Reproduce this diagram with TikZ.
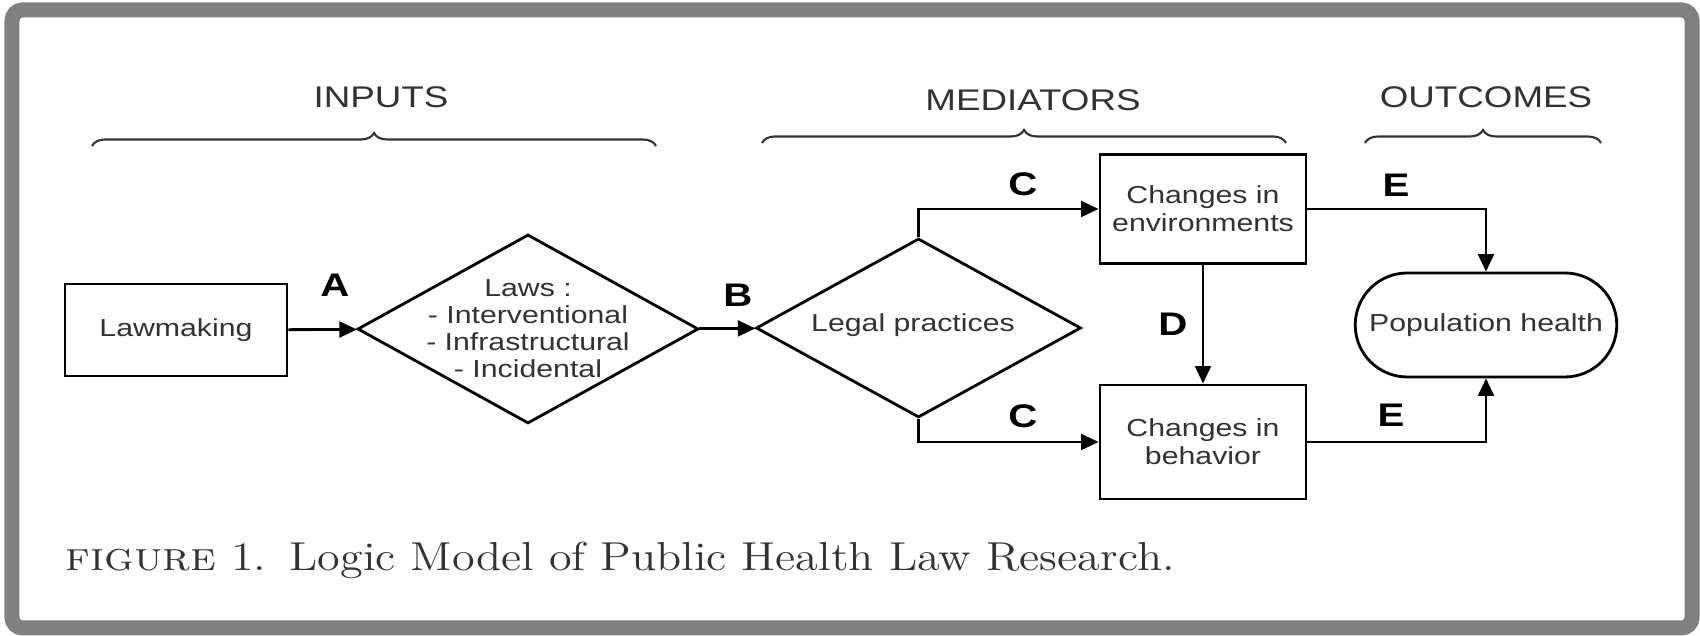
\documentclass[tikz,border=0pt]{standalone}
\usepackage{fontspec}
\usepackage{graphicx}
\usetikzlibrary{arrows.meta, positioning, shapes.geometric, shapes.misc, decorations.pathreplacing}
\newfontfamily\diagfont{Liberation Sans}[FakeStretch=1.23]
\definecolor{framegray}{RGB}{128, 128, 128}
\definecolor{inkgray}{RGB}{50, 50, 50}

\begin{document}
\begin{tikzpicture}[
    box/.style={draw, line width=0.8pt, minimum width=2.06cm, minimum height=1.09cm,
                align=center, text=inkgray, font=\diagfont\fontsize{7}{8}\selectfont},
    lawdiamond/.style={diamond, draw, line width=0.8pt, inner sep=0pt},
    txt/.style={align=center, text=inkgray, font=\diagfont\fontsize{7}{7.7}\selectfont},
    hdr/.style={text=inkgray, font=\diagfont\fontsize{8.5}{10}\selectfont},
    lbl/.style={text=black, font=\diagfont\bfseries\fontsize{9.3}{10}\selectfont},
    arrow/.style={-{Triangle[length=5pt, width=4.5pt]}, line width=0.8pt},
    grp/.style={decorate, decoration={brace, amplitude=3.7pt}, line width=0.6pt, inkgray},
  ]
    \useasboundingbox (0,0) rectangle (17,6.36);
    \draw[framegray, line width=0.15cm, rounded corners=3pt] (0.12,0.08) rectangle (16.92,6.26);

    % Headers and braces
    \node[hdr] (hdinputs) at (3.81,5.39) {INPUTS};
    \node[hdr] (hdmediators) at (10.33,5.36) {MEDIATORS};
    \node[hdr] (hdoutcomes) at (14.86,5.39) {OUTCOMES};
    \draw[grp] (0.92,4.90) -- (6.56,4.90);
    \draw[grp] (7.62,4.93) -- (12.86,4.93);
    \draw[grp] (13.65,4.93) -- (16.01,4.93);

    % Inputs
    \node[box, minimum width=2.22cm, minimum height=0.92cm] (lawmaking) at (1.76,3.06) {Lawmaking};
    \node[lawdiamond, minimum width=3.41cm, minimum height=1.89cm] (laws) at (5.28,3.07) {};
    \node[txt] (lawstext) at (laws) {Laws :\\- Interventional\\- Infrastructural\\- Incidental};

    % Mediators
    \node[lawdiamond, minimum width=3.25cm, minimum height=1.79cm] (legal) at (9.185,3.08) {};
    \node[txt] (legaltext) at (9.13,3.11) {Legal practices};
    \node[box] (env) at (12.03,4.27) {Changes in\\environments};
    \node[box, minimum height=1.14cm] (beh) at (12.03,1.94) {Changes in\\behavior};

    % Outcomes
    \node[box, rounded rectangle, minimum width=2.85cm, minimum height=1.04cm] (pop) at (14.86,3.11) {Population health};

    % Connectors
    \draw[arrow] (lawmaking) -- (laws);
    \draw[arrow] (laws) -- (legal);
    \draw[arrow] (legal.north) |- (env.west);
    \draw[arrow] (legal.south) |- (beh.west);
    \draw[arrow] (env) -- (beh);
    \draw[arrow] (env.east) -| (pop.north);
    \draw[arrow] (beh.east) -| (pop.south);

    % Path labels
    \node[lbl] (lblA) at (3.35,3.51) {A};
    \node[lbl] (lblB) at (7.38,3.41) {B};
    \node[lbl] (lblCup) at (10.23,4.52) {C};
    \node[lbl] (lblCdown) at (10.23,2.20) {C};
    \node[lbl] (lblD) at (11.73,3.12) {D};
    \node[lbl] (lblEup) at (13.96,4.51) {E};
    \node[lbl] (lblEdown) at (13.91,2.21) {E};

    % Caption
    \node[anchor=west, inner sep=0pt, text=inkgray, font=\fontsize{11.5}{13}\selectfont] (caption) at (0.65,0.76)
      {\resizebox{11.09cm}{\height}{\textsc{figure} 1.\enspace Logic Model of Public Health Law Research.}};
  \end{tikzpicture}
\end{document}
